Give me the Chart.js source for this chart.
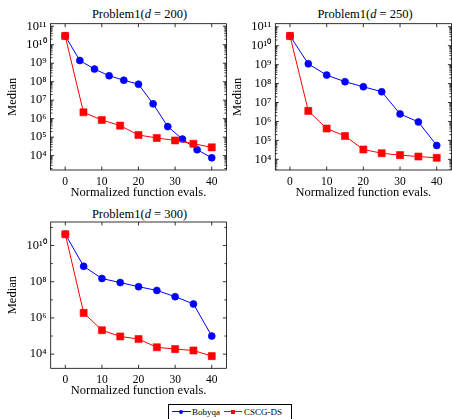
<!DOCTYPE html>
<html><head><meta charset="utf-8">
<script src="https://cdn.jsdelivr.net/npm/chart.js@4.4.0/dist/chart.umd.min.js"></script>
<style>
html,body{margin:0;padding:0;width:452px;height:419px;overflow:hidden;background:#fff;}
body{position:relative;font-family:'Liberation Serif','Times New Roman',serif;color:#000;}
.wrap{position:absolute;width:232px;height:200px;}
.ttl{position:absolute;font-size:12.5px;white-space:nowrap;transform:translate(-50%,-50%);line-height:1;}
#legend{position:absolute;left:168px;top:404px;width:124px;height:18px;border:0.8px solid #000;box-sizing:border-box;font-size:9px;}
#legend .ln{position:absolute;height:1px;top:6px;}
#legend .tx{position:absolute;top:1px;line-height:12px;}
</style></head><body>
<div class="ttl" style="left:139.5px;top:13.5px">Problem1(<i>d</i> = 200)</div>
<div class="ttl" style="left:365px;top:13.5px">Problem1(<i>d</i> = 250)</div>
<div class="ttl" style="left:139.5px;top:213.5px">Problem1(<i>d</i> = 300)</div>
<div class="wrap" style="left:0;top:0"><canvas id="c1"></canvas></div>
<div class="wrap" style="left:225px;top:0"><canvas id="c2"></canvas></div>
<div class="wrap" style="left:0;top:198px"><canvas id="c3"></canvas></div>
<div id="legend">
  <div class="ln" style="left:3px;width:19px;background:#00f"></div>
  <div style="position:absolute;left:10px;top:4.5px;width:4px;height:4px;border-radius:50%;background:#00f"></div>
  <div class="tx" style="left:23px">Bobyqa</div>
  <div class="ln" style="left:55px;width:18px;background:#f00"></div>
  <div style="position:absolute;left:62px;top:4.5px;width:4px;height:4px;background:#f00"></div>
  <div class="tx" style="left:75px">CSCG-DS</div>
</div>
<script>
// ---- data ----
const xTicks = [0, 10, 20, 30, 40];
const xBobyqa200 = [0, 4, 8, 12, 16, 20, 24, 28, 32, 36, 40];
const bobyqa200 = [3.0e10, 1.4e9, 4.8e8, 2.1e8, 1.2e8, 7.3e7, 6.3e6, 3.7e5, 7.8e4, 2.1e4, 7.6e3];
const xCscg200 = [0, 5, 10, 15, 20, 25, 30, 35, 40];
const cscg200 = [3.0e10, 2.2e6, 8.5e5, 4.2e5, 1.3e5, 9.0e4, 6.6e4, 4.4e4, 2.8e4];

const xBobyqa250 = [0, 5, 10, 15, 20, 25, 30, 35, 40];
const bobyqa250 = [3.3e10, 1.1e9, 2.8e8, 1.26e8, 6.8e7, 3.7e7, 2.5e6, 9.4e5, 5.4e4];
const xCscg250 = [0, 5, 10, 15, 20, 25, 30, 35, 40];
const cscg250 = [3.3e10, 3.6e6, 4.2e5, 1.7e5, 3.3e4, 2.1e4, 1.66e4, 1.4e4, 1.2e4];

const xBobyqa300 = [0, 5, 10, 15, 20, 25, 30, 35, 40];
const bobyqa300 = [4.2e10, 7.1e8, 1.5e8, 8.9e7, 5.3e7, 3.3e7, 1.5e7, 5.9e6, 1.0e5];
const xCscg300 = [0, 5, 10, 15, 20, 25, 30, 35, 40];
const cscg300 = [4.2e10, 1.9e6, 2.1e5, 9.5e4, 6.8e4, 2.4e4, 1.9e4, 1.6e4, 7.8e3];

const yTicks200 = [1e4, 1e5, 1e6, 1e7, 1e8, 1e9, 1e10, 1e11];
const yTicks250 = [1e4, 1e5, 1e6, 1e7, 1e8, 1e9, 1e10, 1e11];
const yTicks300 = [1e4, 1e6, 1e8, 1e10];

const seriesNames = ['Bobyqa', 'CSCG-DS'];
const xTitle = 'Normalized function evals.';
const yTitle = 'Median';

// ---- helpers ----
const SUP = {'0':'⁰','1':'¹','2':'²','3':'³','4':'⁴','5':'⁵','6':'⁶','7':'⁷','8':'⁸','9':'⁹','-':'⁻'};
function powLabel(v){ const e = Math.round(Math.log10(v)); return '10' + String(e).split('').map(c=>SUP[c]).join(''); }
const FONT = "'Liberation Serif','Times New Roman',serif";

const boxPlugin = {
  id: 'pgfbox',
  afterDraw(chart) {
    const {ctx, chartArea: a, scales} = chart;
    const xs = scales.x, ys = scales.y;
    const o = chart.options.plugins.pgfbox;
    ctx.save();
    ctx.strokeStyle = '#000';
    ctx.lineWidth = 0.8;
    ctx.strokeRect(a.left, a.top, a.right - a.left, a.bottom - a.top);
    ctx.beginPath();
    const maj = 3.5, mnr = 2;
    xTicks.forEach(v => {
      const p = xs.getPixelForValue(v);
      ctx.moveTo(p, a.bottom); ctx.lineTo(p, a.bottom - maj);
      ctx.moveTo(p, a.top); ctx.lineTo(p, a.top + maj);
    });
    o.yTicks.forEach(v => {
      const p = ys.getPixelForValue(v);
      ctx.moveTo(a.left, p); ctx.lineTo(a.left + maj, p);
      ctx.moveTo(a.right, p); ctx.lineTo(a.right - maj, p);
    });
    const lo = Math.floor(Math.log10(ys.min)), hi = Math.ceil(Math.log10(ys.max));
    const minors = [];
    if (o.decadeMinor) {
      for (let e = lo; e <= hi; e++) {
        const v = Math.pow(10, e);
        if (!o.yTicks.includes(v)) minors.push(v);
      }
    } else {
      for (let e = lo; e <= hi; e++) for (let k = 2; k <= 9; k++) minors.push(k * Math.pow(10, e));
    }
    minors.forEach(v => {
      if (v <= ys.min || v >= ys.max) return;
      const p = ys.getPixelForValue(v);
      ctx.moveTo(a.left, p); ctx.lineTo(a.left + mnr, p);
      ctx.moveTo(a.right, p); ctx.lineTo(a.right - mnr, p);
    });
    ctx.stroke();
    ctx.restore();
  }
};

function makeChart(id, xb, yb, xc, yc, yTicks, opt) {
  const all = yb.concat(yc).map(Math.log10);
  const lo = Math.min(...all), hi = Math.max(...all);
  const en = 0.1 * (hi - lo);
  return new Chart(document.getElementById(id), {
    type: 'line',
    data: {
      datasets: [
        { label: seriesNames[0], data: xb.map((x, i) => ({x, y: yb[i]})),
          borderColor: '#0000ff', backgroundColor: '#0000ff', borderWidth: 1,
          pointStyle: 'circle', pointRadius: 3.5, pointBorderWidth: 0.6, order: 2 },
        { label: seriesNames[1], data: xc.map((x, i) => ({x, y: yc[i]})),
          borderColor: '#ff0000', backgroundColor: '#ff0000', borderWidth: 1,
          pointStyle: 'rect', pointRadius: 5, pointBorderWidth: 0.6, order: 1 }
      ]
    },
    options: {
      responsive: true, maintainAspectRatio: false, animation: false,
      devicePixelRatio: 1,
      layout: { padding: { top: opt.top, right: opt.right, left: 0, bottom: 0 } },
      plugins: { legend: { display: false }, tooltip: { enabled: false },
                 pgfbox: { yTicks, decadeMinor: opt.decadeMinor } },
      scales: {
        x: {
          type: 'linear', min: -4, max: 44,
          afterBuildTicks: s => { s.ticks = xTicks.map(v => ({value: v})); },
          afterFit: s => { s.height = opt.xh; },
          grid: { display: false, drawTicks: false },
          border: { display: false },
          ticks: { color: '#000', font: { family: FONT, size: 11.5 }, padding: 5, maxRotation: 0, autoSkip: false },
          title: { display: true, text: xTitle, color: '#000', font: { family: FONT, size: 12.5 }, padding: { top: 0, bottom: 0 } }
        },
        y: {
          type: 'logarithmic', min: Math.pow(10, lo - en), max: Math.pow(10, hi + en),
          afterBuildTicks: s => { s.ticks = yTicks.map(v => ({value: v})); },
          afterFit: s => { s.width = opt.yw; },
          grid: { display: false, drawTicks: false },
          border: { display: false },
          ticks: { color: '#000', font: { family: FONT, size: 12.5 }, padding: 4, autoSkip: false, callback: v => powLabel(v) },
          title: { display: true, text: yTitle, color: '#000', font: { family: FONT, size: 12.5 }, padding: { top: 5, bottom: 0 } }
        }
      }
    },
    plugins: [boxPlugin]
  });
}

makeChart('c1', xBobyqa200, bobyqa200, xCscg200, cscg200, yTicks200, { top: 23.7, right: 3, yw: 50.5, xh: 30, decadeMinor: false });
makeChart('c2', xBobyqa250, bobyqa250, xCscg250, cscg250, yTicks250, { top: 23.7, right: 2.8, yw: 50.3, xh: 30, decadeMinor: false });
makeChart('c3', xBobyqa300, bobyqa300, xCscg300, cscg300, yTicks300, { top: 24, right: 2.8, yw: 50.7, xh: 29.7, decadeMinor: true });
</script>
</body></html>
